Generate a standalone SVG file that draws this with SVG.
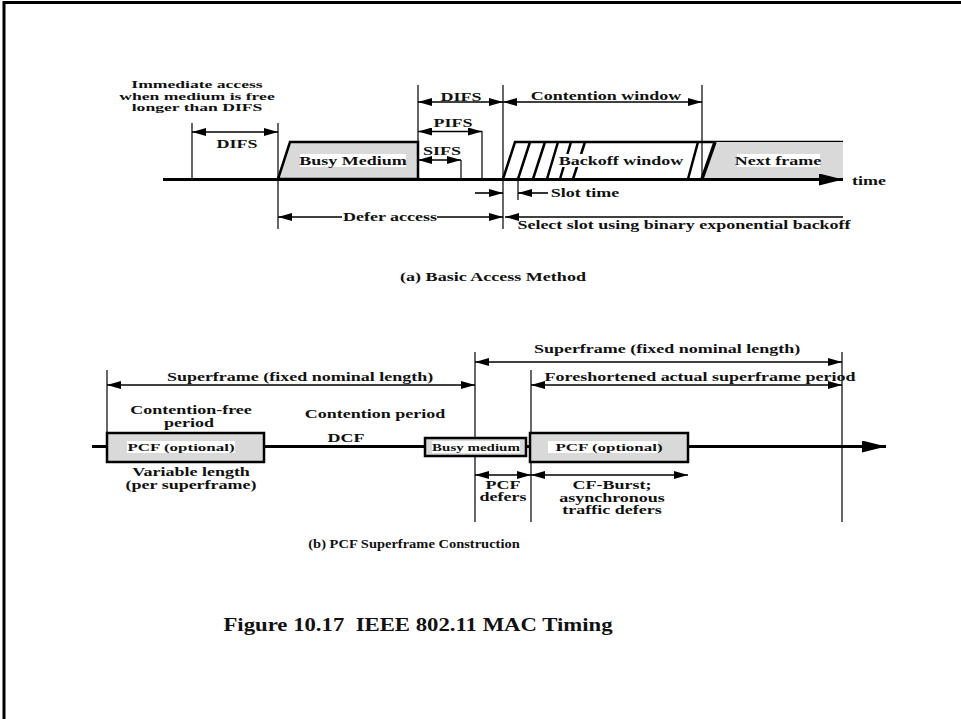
<svg xmlns="http://www.w3.org/2000/svg" width="961" height="719" viewBox="0 0 961 719">
<style>
  .t{font-family:"Liberation Serif","Times New Roman",serif;font-weight:bold;font-size:12px;fill:#111;text-anchor:middle}
  .s{font-size:10px}
  .ln{stroke:#000;stroke-width:1.2;fill:none}
  .ar{stroke:#000;stroke-width:1.6;fill:none}
  .ax{stroke:#000;stroke-width:3;fill:none}
  .box{fill:#d9d9d9;stroke:#000;stroke-width:2.5}
  .thick{stroke:#000;stroke-width:2.5;fill:none}
  .bg{fill:#fff}
</style>
<defs>
  <marker id="ah" viewBox="0 0 14 8" refX="14" refY="4" markerWidth="14" markerHeight="8" markerUnits="userSpaceOnUse" orient="auto-start-reverse">
    <path d="M0,0 L14,4 L0,8 z" fill="#000"/>
  </marker>
  <marker id="big" viewBox="0 0 24 12" refX="24" refY="6" markerWidth="24" markerHeight="12" markerUnits="userSpaceOnUse" orient="auto">
    <path d="M0,0 L24,6 L0,12 z" fill="#000"/>
  </marker>
</defs>
<rect width="961" height="719" fill="#fff"/>
<path d="M4,719 V2.5 H961" stroke="#000" stroke-width="3" fill="none"/>

<!-- (a) Basic access method -->
<g id="busy-medium">
  <polygon class="box" points="278,179 290,142 418,142 418,179"/>
  <rect class="bg" x="300" y="154" width="106" height="13"/>
  <text class="t" transform="translate(353,165) scale(1.5,1)">Busy Medium</text>
</g>
<g id="backoff-window">
  <path class="thick" d="M503,179 L515,142 H843 M518,179 L530,142 M533,179 L545,142 M547,179 L558,142 M560,179 L571,142 M573,179 L585,142 M688,179 L698,142"/>
  <rect class="bg" x="558" y="154" width="126" height="13"/>
  <text class="t" transform="translate(621,165) scale(1.5,1)">Backoff window</text>
</g>
<g id="next-frame">
  <polygon points="704,179 715,142 843,142 843,179" fill="#d9d9d9"/>
  <path d="M702,179 L715,142" stroke="#000" stroke-width="3.5"/>
  <rect class="bg" x="737" y="154" width="83" height="13"/>
  <text class="t" transform="translate(778,165) scale(1.5,1)">Next frame</text>
</g>

<g id="connectors">
  <!-- axis a -->
  <line class="ax" x1="163" y1="179.5" x2="843" y2="179.5" marker-end="url(#big)"/>
  <!-- vertical guides a -->
  <line class="ln" x1="192" y1="123" x2="192" y2="179"/>
  <line class="ln" x1="278" y1="123" x2="278" y2="229"/>
  <line class="ln" x1="418" y1="85" x2="418" y2="142"/>
  <line class="ln" x1="503" y1="85" x2="503" y2="229"/>
  <line class="ln" x1="702" y1="85" x2="702" y2="179"/>
  <line class="ln" x1="482" y1="131" x2="482" y2="179"/>
  <line class="ln" x1="461" y1="160" x2="461" y2="179"/>
  <line class="ln" x1="518" y1="179" x2="518" y2="200"/>
  <!-- arrows a -->
  <line class="ar" x1="192" y1="132" x2="278" y2="132" marker-start="url(#ah)" marker-end="url(#ah)"/>
  <line class="ar" x1="418" y1="102" x2="503" y2="102" marker-start="url(#ah)" marker-end="url(#ah)"/>
  <line class="ar" x1="418" y1="131.5" x2="482" y2="131.5" marker-start="url(#ah)" marker-end="url(#ah)"/>
  <line class="ar" x1="418" y1="160" x2="461" y2="160" marker-start="url(#ah)" marker-end="url(#ah)"/>
  <line class="ar" x1="503" y1="102" x2="702" y2="102" marker-start="url(#ah)" marker-end="url(#ah)"/>
  <line class="ar" x1="548" y1="193" x2="518" y2="193" marker-end="url(#ah)"/>
  <line class="ar" x1="475" y1="193" x2="503" y2="193" marker-end="url(#ah)"/>
  <line class="ar" x1="278" y1="217" x2="503" y2="217" marker-start="url(#ah)" marker-end="url(#ah)"/>
  <line class="ar" x1="505" y1="217" x2="843" y2="217" marker-start="url(#ah)"/>

  <!-- axis b -->
  <line class="ax" x1="92" y1="446.5" x2="886" y2="446.5" marker-end="url(#big)"/>
  <line class="ln" x1="107" y1="370" x2="107" y2="433"/>
  <line class="ln" x1="475" y1="352" x2="475" y2="522"/>
  <line class="ln" x1="531" y1="370" x2="531" y2="522"/>
  <line class="ln" x1="842" y1="352" x2="842" y2="522"/>
  <line class="ar" x1="107" y1="385" x2="475" y2="385" marker-start="url(#ah)" marker-end="url(#ah)"/>
  <line class="ar" x1="475" y1="362" x2="842" y2="362" marker-start="url(#ah)" marker-end="url(#ah)"/>
  <line class="ar" x1="531" y1="385" x2="842" y2="385" marker-start="url(#ah)" marker-end="url(#ah)"/>
  <line class="ar" x1="475" y1="475" x2="531" y2="475" marker-start="url(#ah)" marker-end="url(#ah)"/>
  <line class="ar" x1="531" y1="475" x2="688" y2="475" marker-start="url(#ah)" marker-end="url(#ah)"/>
</g>

<g id="labels-a">
  <text class="t" style="font-size:11px" transform="translate(197,88) scale(1.6,1)">Immediate access</text>
  <text class="t" style="font-size:11px" transform="translate(197,99.5) scale(1.6,1)">when medium is free</text>
  <text class="t" style="font-size:11px" transform="translate(197,111) scale(1.6,1)">longer than DIFS</text>
  <text class="t" transform="translate(237,148) scale(1.5,1)">DIFS</text>
  <text class="t" transform="translate(461,101) scale(1.5,1)">DIFS</text>
  <text class="t" transform="translate(453,127) scale(1.5,1)">PIFS</text>
  <text class="t" transform="translate(442,155) scale(1.5,1)">SIFS</text>
  <text class="t" transform="translate(606,100) scale(1.5,1)">Contention window</text>
  <text class="t" transform="translate(869,185) scale(1.5,1)">time</text>
  <text class="t" transform="translate(585,197) scale(1.5,1)">Slot time</text>
  <rect class="bg" x="342" y="211" width="95" height="11"/>
  <text class="t" transform="translate(390,221) scale(1.5,1)">Defer access</text>
  <text class="t" transform="translate(684,229) scale(1.5,1)">Select slot using binary exponential backoff</text>
  <text class="t" style="font-size:11.5px" transform="translate(493,281) scale(1.57,1)">(a) Basic Access Method</text>
</g>

<!-- (b) PCF superframe -->
<g id="pcf-1">
  <rect class="box" x="107" y="433" width="157" height="29"/>
  <rect class="bg" x="127" y="441" width="108" height="12"/>
  <text class="t" style="font-size:11.3px" transform="translate(181,451) scale(1.5,1)">PCF (optional)</text>
</g>
<g id="busy-medium-b">
  <rect class="box" x="425" y="438" width="101" height="18"/>
  <rect class="bg" x="432" y="441" width="88" height="12"/>
  <text class="t s" transform="translate(476,451) scale(1.5,1)">Busy medium</text>
</g>
<g id="pcf-2">
  <rect class="box" x="530" y="433" width="158" height="29"/>
  <rect class="bg" x="548" y="441" width="110" height="12"/>
  <text class="t" style="font-size:11.3px" transform="translate(609,451) scale(1.5,1)">PCF (optional)</text>
</g>

<g id="labels-b">
  <text class="t" transform="translate(300,381) scale(1.5,1)">Superframe (fixed nominal length)</text>
  <text class="t" transform="translate(667,353) scale(1.5,1)">Superframe (fixed nominal length)</text>
  <text class="t" transform="translate(700,381) scale(1.5,1)">Foreshortened actual superframe period</text>
  <text class="t" transform="translate(191,414) scale(1.5,1)">Contention-free</text>
  <text class="t" transform="translate(189,427) scale(1.5,1)">period</text>
  <text class="t" transform="translate(375,418) scale(1.5,1)">Contention period</text>
  <text class="t" transform="translate(346,442) scale(1.5,1)">DCF</text>
  <text class="t" transform="translate(191,476) scale(1.5,1)">Variable length</text>
  <text class="t" transform="translate(191,489) scale(1.5,1)">(per superframe)</text>
  <text class="t" transform="translate(503,489) scale(1.5,1)">PCF</text>
  <text class="t" transform="translate(503,501) scale(1.5,1)">defers</text>
  <text class="t" transform="translate(612,489) scale(1.5,1)">CF-Burst;</text>
  <text class="t" transform="translate(612,502) scale(1.5,1)">asynchronous</text>
  <text class="t" transform="translate(612,514) scale(1.5,1)">traffic defers</text>
  <text class="t" style="font-size:11.5px" transform="translate(414,548) scale(1.26,1)">(b) PCF Superframe Construction</text>
</g>

<g id="caption">
  <text class="t" style="font-size:18.5px" transform="translate(418,631) scale(1.23,1)">Figure 10.17&#160; IEEE 802.11 MAC Timing</text>
</g>
</svg>
